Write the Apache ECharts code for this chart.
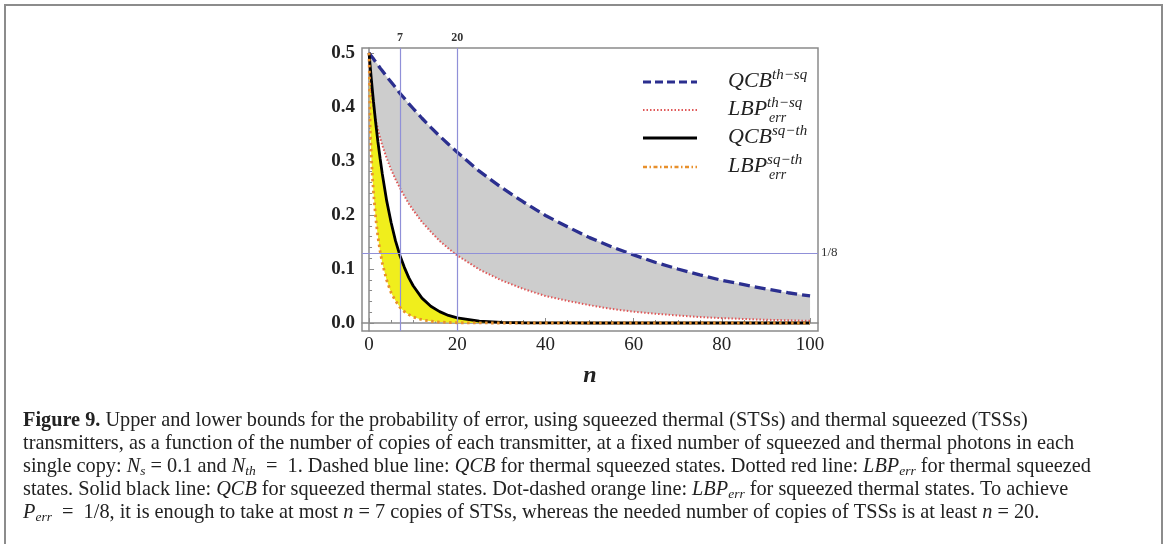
<!DOCTYPE html>
<html><head><meta charset="utf-8">
<script src="https://cdn.jsdelivr.net/npm/echarts@6/dist/echarts.min.js"></script>
<style>html,body{margin:0;padding:0;background:#fff;}#c{width:1166px;height:544px;}</style>
</head><body><div id="c"></div>
<script>
// ---- data ----
const nValues = [0,0.25,0.5,0.75,1,1.5,2,2.5,3,4,5,6,7,8,9,10,12,14,16,18,20,25,30,35,40,45,50,55,60,65,70,75,80,85,90,95,100];
const qcbThSq = [0.500,0.497,0.494,0.491,0.489,0.483,0.478,0.472,0.467,0.456,0.446,0.436,0.425,0.416,0.406,0.397,0.379,0.362,0.346,0.331,0.316,0.281,0.251,0.224,0.199,0.178,0.158,0.141,0.126,0.112,0.100,0.089,0.079,0.071,0.063,0.056,0.050];
const lbpThSq = [0.500,0.449,0.428,0.413,0.399,0.377,0.359,0.343,0.329,0.305,0.284,0.266,0.250,0.235,0.221,0.209,0.187,0.169,0.152,0.138,0.125,0.099,0.079,0.063,0.050,0.041,0.033,0.026,0.021,0.017,0.014,0.011,0.009,0.0075,0.006,0.005,0.004];
const qcbSqTh = [0.500,0.476,0.453,0.431,0.410,0.371,0.336,0.305,0.276,0.226,0.186,0.152,0.125,0.103,0.084,0.069,0.046,0.031,0.021,0.014,0.0095,0.0035,0.0013,0.0005,0.0002,0.0001,0,0,0,0,0,0,0,0,0,0,0];
const lbpSqTh = [0.500,0.363,0.311,0.272,0.242,0.195,0.160,0.133,0.111,0.079,0.056,0.041,0.029,0.021,0.0156,0.011,0.006,0.0033,0.0018,0.001,0.0005,0.0001,0,0,0,0,0,0,0,0,0,0,0,0,0,0,0];
const xTickLabels = [0,20,40,60,80,100];
const xMinorTicks = [5,10,15,25,30,35,45,50,55,65,70,75,85,90,95];
const yTickLabels = [0,0.1,0.2,0.3,0.4,0.5];
const yMinorTicks = [0.02,0.04,0.06,0.08,0.12,0.14,0.16,0.18,0.22,0.24,0.26,0.28,0.32,0.34,0.36,0.38,0.42,0.44,0.46,0.48];
const refCopies = [7,20];
const refCopyLabels = ['7','20'];
const refError = 0.125;
const refErrorLabel = '1/8';

const serif = 'Liberation Serif';
const pairs = arr => nValues.map((n,i)=>[n, arr[i]]);

const chart = echarts.init(document.getElementById('c'), null, {renderer:'canvas'});

const axisGray = '#8a8a8a';
const refColor = '#9090d8';
const redDot = '#e05858';

// band between an upper and a lower curve, drawn through the axis scales
function band(upper, lower, color){
  return {
    type:'custom', silent:true, z:1, clip:true, data:[[0,0]],
    renderItem:(params, api)=>{
      const pts = [];
      for (let i=0;i<nValues.length;i++) pts.push(api.coord([nValues[i], upper[i]]));
      for (let i=nValues.length-1;i>=0;i--) pts.push(api.coord([nValues[i], lower[i]]));
      return {type:'polygon', shape:{points:pts}, style:{fill:color, stroke:null}};
    }
  };
}

const option = {
  animation:false,
  backgroundColor:'#fff',
  grid:{left:362, top:48, width:456, height:283, show:true, borderColor:axisGray, borderWidth:1.5, backgroundColor:'transparent'},
  xAxis:[{
    type:'value', min:-1.6, max:101.8, position:'bottom',
    name:'n', nameLocation:'middle', nameGap:33,
    nameTextStyle:{fontFamily:serif, fontStyle:'italic', fontWeight:'bold', fontSize:24, color:'#222'},
    axisLine:{show:true, lineStyle:{color:axisGray, width:1.5}},
    axisTick:{show:true, inside:true, length:5, customValues:xTickLabels, lineStyle:{color:axisGray}},
    axisLabel:{show:true, customValues:xTickLabels, margin:5, fontFamily:serif, fontSize:19, color:'#222'},
    splitLine:{show:false}
  },{
    type:'value', min:-1.6, max:101.8, position:'bottom',
    axisLine:{show:false},
    axisTick:{show:true, inside:true, length:3, customValues:xMinorTicks, lineStyle:{color:axisGray}},
    axisLabel:{show:false}, splitLine:{show:false}
  }],
  yAxis:[{
    type:'value', min:-0.0148, max:0.509, position:'left',
    axisLine:{show:true, lineStyle:{color:axisGray, width:1.5}},
    axisTick:{show:true, inside:true, length:5, customValues:yTickLabels, lineStyle:{color:axisGray}},
    axisLabel:{show:true, customValues:yTickLabels, margin:7, fontFamily:serif, fontSize:19, fontWeight:'bold', color:'#222',
      formatter:v=>v.toFixed(1)},
    splitLine:{show:false}
  },{
    type:'value', min:-0.0148, max:0.509, position:'left',
    axisLine:{show:false},
    axisTick:{show:true, inside:true, length:3, customValues:yMinorTicks, lineStyle:{color:axisGray}},
    axisLabel:{show:false}, splitLine:{show:false}
  }],
  series:[
    band(qcbThSq, lbpThSq, '#cdcdcd'),
    band(qcbSqTh, lbpSqTh, '#f0ee1c'),
    {type:'line', name:'refs', data:[], silent:true, z:3,
      markLine:{silent:true, symbol:'none', animation:false,
        lineStyle:{color:refColor, width:1.2, type:'solid'},
        data:[
          ...refCopies.map((c,i)=>({xAxis:c, label:{show:true, position:'end', formatter:refCopyLabels[i], distance:4,
            fontFamily:serif, fontSize:12, fontWeight:'bold', color:'#333'}})),
          {yAxis:refError, label:{show:true, position:'end', formatter:refErrorLabel, distance:3,
            fontFamily:serif, fontSize:13, color:'#333'}}
        ]}},
    {type:'line', name:'QCB th-sq', data:pairs(qcbThSq), showSymbol:false, symbol:'none', z:4,
      lineStyle:{color:'#2b2f8f', width:3.3, type:[11,5]}},
    {type:'line', name:'LBP th-sq', data:pairs(lbpThSq), showSymbol:false, symbol:'none', z:4,
      lineStyle:{color:redDot, width:2, type:[1.5,2]}},
    {type:'line', name:'QCB sq-th', data:pairs(qcbSqTh), showSymbol:false, symbol:'none', z:4,
      lineStyle:{color:'#000', width:2.8, type:'solid'}},
    {type:'line', name:'LBP sq-th', data:pairs(lbpSqTh), showSymbol:false, symbol:'none', z:5,
      lineStyle:{color:'#e8902c', width:2.8, type:[2.5,3.5]}}
  ],
  graphic:[]
};

// legend (drawn as graphic elements)
const legRows = [
  {y:82, stroke:'#2b2f8f', w:3, dash:[8,4], main:'QCB', sup:'th−sq', sub:null},
  {y:110, stroke:redDot, w:2, dash:[1.5,2], main:'LBP', sup:'th−sq', sub:'err'},
  {y:138, stroke:'#000', w:3, dash:null, main:'QCB', sup:'sq−th', sub:null},
  {y:167, stroke:'#e8902c', w:2.5, dash:[4,2.5,1.5,2.5], main:'LBP', sup:'sq−th', sub:'err'}
];
const legRich = {
  m:{fontFamily:serif, fontStyle:'italic', fontSize:22, fill:'#222'},
  u:{fontFamily:serif, fontStyle:'italic', fontSize:15, fill:'#222', padding:[0,0,12,0]}
};
legRows.forEach(r=>{
  option.graphic.push({type:'line', silent:true, z:10, shape:{x1:643,y1:r.y,x2:697,y2:r.y},
    style:{stroke:r.stroke, lineWidth:r.w, lineDash:r.dash}});
  option.graphic.push({type:'text', silent:true, z:10, x:728, y:r.y-1,
    style:{text:'{m|'+r.main+'}{u|'+r.sup+'}', rich:legRich, verticalAlign:'middle', align:'left'}});
  if (r.sub) option.graphic.push({type:'text', silent:true, z:10, x:769, y:r.y+8,
    style:{text:r.sub, fontFamily:serif, fontStyle:'italic', fontSize:14, fill:'#222', verticalAlign:'middle', align:'left'}});
});

// outer frame
option.graphic.push({type:'rect', silent:true, z:0, shape:{x:5,y:5,width:1157,height:560},
  style:{fill:'none', stroke:'#8c8c8c', lineWidth:2}});

// caption
const capSize = 20.3;
const capRich = {
  b:{fontFamily:serif, fontWeight:'bold', fontSize:capSize, fill:'#222'},
  i:{fontFamily:serif, fontStyle:'italic', fontSize:capSize, fill:'#222'},
  s:{fontFamily:serif, fontStyle:'italic', fontSize:13.5, fill:'#222', padding:[9,0,0,0]}
};
const captionLines = [
  '{b|Figure 9.} Upper and lower bounds for the probability of error, using squeezed thermal (STSs) and thermal squeezed (TSSs)',
  'transmitters, as a function of the number of copies of each transmitter, at a fixed number of squeezed and thermal photons in each',
  'single copy: {i|N}{s|s} = 0.1 and {i|N}{s|th}  =  1. Dashed blue line: {i|QCB} for thermal squeezed states. Dotted red line: {i|LBP}{s|err} for thermal squeezed',
  'states. Solid black line: {i|QCB} for squeezed thermal states. Dot-dashed orange line: {i|LBP}{s|err} for squeezed thermal states. To achieve',
  '{i|P}{s|err}  =  1/8, it is enough to take at most {i|n} = 7 copies of STSs, whereas the needed number of copies of TSSs is at least {i|n} = 20.'
];
captionLines.forEach((t,i)=>{
  option.graphic.push({type:'text', silent:true, z:10, x:23, y:421+i*23,
    style:{text:t, rich:capRich, fontFamily:serif, fontSize:capSize, fill:'#222', verticalAlign:'middle', align:'left'}});
});

chart.setOption(option);
</script>
</body></html>
